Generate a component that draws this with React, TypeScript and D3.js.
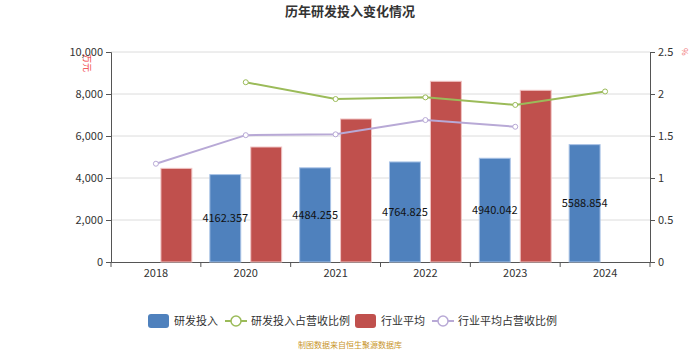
import React, { useEffect, useRef } from "react";
import * as d3 from "d3";

const years = ["2018", "2020", "2021", "2022", "2023", "2024"];
const rdInvest: (number | null)[] = [null, 4162.357, 4484.255, 4764.825, 4940.042, 5588.854];
const industryAvg: (number | null)[] = [4460, 5476, 6810, 8605, 8176, null];
const rdRatio: (number | null)[] = [null, 2.14, 1.94, 1.96, 1.87, 2.03];
const industryRatio: (number | null)[] = [1.17, 1.51, 1.52, 1.69, 1.61, null];
const leftTicks = [0, 2000, 4000, 6000, 8000, 10000];
const rightTicks = [0, 0.5, 1, 1.5, 2, 2.5];

const BLUE = "#4f81bd";
const RED = "#c0504d";
const GREEN = "#9bbb59";
const PURPLE = "#b8a9d6";
const FONT = "'Noto Sans CJK SC', 'Noto Sans', sans-serif";

const App = () => {
  const ref = useRef<SVGSVGElement>(null);

  useEffect(() => {
    const width = 700, height = 350;
    const margin = { top: 52, right: 50, bottom: 88, left: 111 };
    const svg = d3.select(ref.current);
    svg.selectAll("*").remove();

    const x = d3.scaleBand().domain(years).range([margin.left, width - margin.right]).padding(0);
    const bw = x.bandwidth();
    const sub = d3.scaleBand().domain(["a", "b"])
      .range([bw * 0.1, bw * 0.9]).paddingInner(0.244);
    const y = d3.scaleLinear().domain([0, 10000]).range([height - margin.bottom, margin.top]);
    const y2 = d3.scaleLinear().domain([0, 2.5]).range([height - margin.bottom, margin.top]);

    // gridlines
    svg.append("g").selectAll("line").data(leftTicks.slice(1)).join("line")
      .attr("x1", margin.left).attr("x2", width - margin.right)
      .attr("y1", d => y(d)).attr("y2", d => y(d))
      .attr("stroke", "#dcdcdc").attr("stroke-width", 1);

    // axes
    const gl = svg.append("g").attr("transform", `translate(${margin.left},0)`)
      .call(d3.axisLeft(y).tickValues(leftTicks).tickFormat(d3.format(",")).tickSize(5).tickPadding(3));
    const gr = svg.append("g").attr("transform", `translate(${width - margin.right},0)`)
      .call(d3.axisRight(y2).tickValues(rightTicks).tickFormat(d => String(d)).tickSize(5).tickPadding(3));
    const gx = svg.append("g").attr("transform", `translate(0,${height - margin.bottom})`)
      .call(d3.axisBottom(x).tickSize(0).tickPadding(7));
    // category boundary ticks
    svg.append("g").selectAll("line").data(years.map((yr) => x(yr)!).concat([width - margin.right]))
      .join("line")
      .attr("x1", d => d).attr("x2", d => d)
      .attr("y1", height - margin.bottom).attr("y2", height - margin.bottom + 5)
      .attr("stroke", "#555");
    [gl, gr, gx].forEach(g => {
      g.selectAll("path").attr("stroke", "#555");
      g.selectAll("line").attr("stroke", "#555");
      g.selectAll("text").attr("fill", "#333").style("font-size", "11px").style("font-family", FONT);
    });

    // bars
    const barData = years.map((yr, i) => ({ yr, a: rdInvest[i], b: industryAvg[i] }));
    const groups = svg.append("g").selectAll("g").data(barData).join("g")
      .attr("transform", d => `translate(${x(d.yr)},0)`);
    groups.filter(d => d.a != null).append("rect")
      .attr("x", sub("a")!).attr("width", sub.bandwidth())
      .attr("y", d => y(d.a!)).attr("height", d => y(0) - y(d.a!))
      .attr("fill", BLUE).attr("stroke", "#a9c3e6").attr("stroke-width", 1);
    groups.filter(d => d.b != null).append("rect")
      .attr("x", sub("b")!).attr("width", sub.bandwidth())
      .attr("y", d => y(d.b!)).attr("height", d => y(0) - y(d.b!))
      .attr("fill", RED).attr("stroke", "#f0c4c4").attr("stroke-width", 1);
    groups.filter(d => d.a != null).append("text")
      .attr("x", sub("a")! + sub.bandwidth() / 2)
      .attr("y", d => (y(d.a!) + y(0)) / 2)
      .attr("dy", "0.35em").attr("text-anchor", "middle")
      .style("font-size", "11px").style("font-family", FONT).attr("fill", "#111")
      .text(d => d3.format(".3f")(d.a!));

    // lines
    const cx = (i: number) => x(years[i])! + bw / 2;
    const drawLine = (vals: (number | null)[], color: string) => {
      const line = d3.line<number | null>()
        .defined(d => d != null)
        .x((_, i) => cx(i)).y(d => y2(d!));
      svg.append("path").datum(vals).attr("d", line)
        .attr("fill", "none").attr("stroke", color).attr("stroke-width", 2);
      svg.append("g").selectAll("circle")
        .data(vals.map((v, i) => ({ v, i })).filter(d => d.v != null)).join("circle")
        .attr("cx", d => cx(d.i)).attr("cy", d => y2(d.v!)).attr("r", 2.5)
        .attr("fill", "#fff").attr("stroke", color).attr("stroke-width", 1);
    };
    drawLine(rdRatio, GREEN);
    drawLine(industryRatio, PURPLE);

    // title
    svg.append("text").attr("x", width / 2).attr("y", 16).attr("text-anchor", "middle")
      .style("font-size", "13px").style("font-weight", "bold").style("font-family", FONT)
      .attr("fill", "#333").text("历年研发投入变化情况");

    // unit labels
    svg.append("text").attr("transform", `translate(84,63) rotate(90)`)
      .attr("text-anchor", "middle").style("font-size", "9px").style("font-family", FONT)
      .attr("fill", "#f03c3c").text("万元");
    svg.append("text").attr("transform", `translate(682,52) rotate(90)`)
      .attr("text-anchor", "middle").style("font-size", "8px").style("font-family", FONT)
      .attr("fill", "#f07070").text("%");

    // legend
    const legend = [
      { name: "研发投入", color: BLUE, type: "bar", x: 148 },
      { name: "研发投入占营收比例", color: GREEN, type: "line", x: 225 },
      { name: "行业平均", color: RED, type: "bar", x: 355 },
      { name: "行业平均占营收比例", color: PURPLE, type: "line", x: 432 },
    ];
    const ly = 321;
    const lg = svg.append("g").selectAll("g").data(legend).join("g")
      .attr("transform", d => `translate(${d.x},${ly})`);
    lg.filter(d => d.type === "bar").append("rect")
      .attr("x", 0).attr("y", -7).attr("width", 21).attr("height", 14).attr("rx", 3)
      .attr("fill", d => d.color);
    lg.filter(d => d.type === "line").append("line")
      .attr("x1", 0).attr("x2", 22).attr("y1", 0).attr("y2", 0)
      .attr("stroke", d => d.color).attr("stroke-width", 2);
    lg.filter(d => d.type === "line").append("circle")
      .attr("cx", 11).attr("cy", 0).attr("r", 5)
      .attr("fill", "#fff").attr("stroke", d => d.color).attr("stroke-width", 1.5);
    lg.append("text").attr("x", 26).attr("y", 0).attr("dy", "0.35em")
      .style("font-size", "11px").style("font-family", FONT).attr("fill", "#333")
      .text(d => d.name);

    // source
    svg.append("text").attr("x", width / 2).attr("y", 348).attr("text-anchor", "middle")
      .style("font-size", "8px").style("font-family", FONT).attr("fill", "#c8952a")
      .text("制图数据来自恒生聚源数据库");
  }, []);

  return <svg ref={ref} width={700} height={350} style={{ position: "absolute", left: 0, top: 0 }} />;
};

export default App;
